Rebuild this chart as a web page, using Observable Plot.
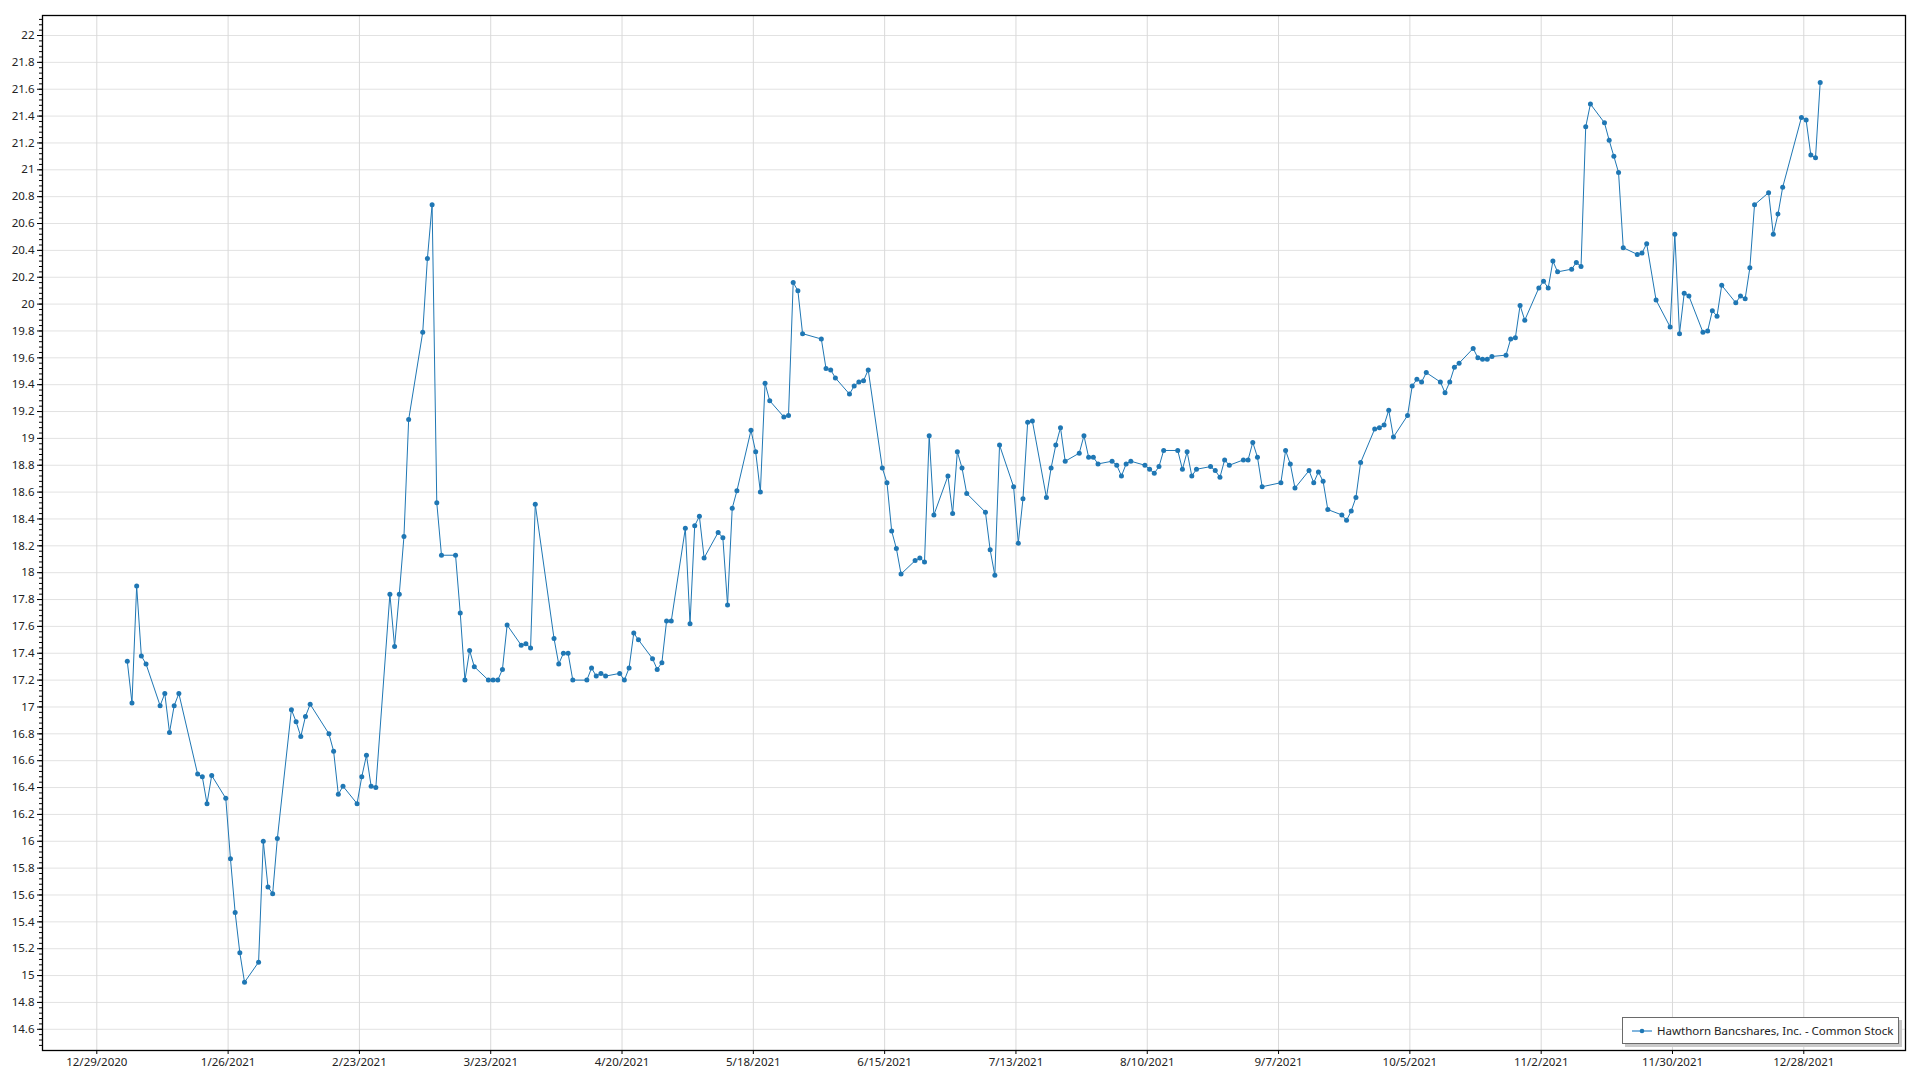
<!DOCTYPE html>
<html><head><meta charset="utf-8">
<script src="https://cdn.jsdelivr.net/npm/d3@7"></script>
<script src="https://cdn.jsdelivr.net/npm/@observablehq/plot@0.6"></script>
<style>
html,body{margin:0;padding:0;background:#fff;}
#wrap{position:relative;width:1920px;height:1080px;overflow:hidden;}
#legend{position:absolute;left:1622px;top:1017px;width:277px;height:27px;border:1.5px solid #6a6a6a;background:#fff;box-shadow:3px 3px 0 #c9c9c9;font-family:"Noto Sans",sans-serif;font-size:11.5px;color:#222;display:flex;align-items:center;box-sizing:border-box;padding-left:9px;}
#legend svg{margin-right:5px;}
</style></head><body>
<div id="wrap"><div id="legend"></div></div>
<script>
const seriesName = "Hawthorn Bancshares, Inc. - Common Stock";

const dates = [
"2021-01-04","2021-01-05","2021-01-06","2021-01-07","2021-01-08","2021-01-11","2021-01-12","2021-01-13","2021-01-14","2021-01-15",
"2021-01-19","2021-01-20","2021-01-21","2021-01-22","2021-01-25","2021-01-26","2021-01-27","2021-01-28","2021-01-29",
"2021-02-01","2021-02-02","2021-02-03","2021-02-04","2021-02-05","2021-02-08","2021-02-09","2021-02-10","2021-02-11","2021-02-12",
"2021-02-16","2021-02-17","2021-02-18","2021-02-19","2021-02-22","2021-02-23","2021-02-24","2021-02-25","2021-02-26",
"2021-03-01","2021-03-02","2021-03-03","2021-03-04","2021-03-05","2021-03-08","2021-03-09","2021-03-10","2021-03-11","2021-03-12",
"2021-03-15","2021-03-16","2021-03-17","2021-03-18","2021-03-19","2021-03-22","2021-03-23","2021-03-24","2021-03-25","2021-03-26",
"2021-03-29","2021-03-30","2021-03-31",
"2021-04-01","2021-04-05","2021-04-06","2021-04-07","2021-04-08","2021-04-09","2021-04-12","2021-04-13","2021-04-14","2021-04-15",
"2021-04-16","2021-04-19","2021-04-20","2021-04-21","2021-04-22","2021-04-23","2021-04-26","2021-04-27","2021-04-28","2021-04-29","2021-04-30",
"2021-05-03","2021-05-04","2021-05-05","2021-05-06","2021-05-07","2021-05-10","2021-05-11","2021-05-12","2021-05-13","2021-05-14",
"2021-05-17","2021-05-18","2021-05-19","2021-05-20","2021-05-21","2021-05-24","2021-05-25","2021-05-26","2021-05-27","2021-05-28",
"2021-06-01","2021-06-02","2021-06-03","2021-06-04","2021-06-07","2021-06-08","2021-06-09","2021-06-10","2021-06-11",
"2021-06-14","2021-06-15","2021-06-16","2021-06-17","2021-06-18","2021-06-21","2021-06-22","2021-06-23","2021-06-24","2021-06-25",
"2021-06-28","2021-06-29","2021-06-30",
"2021-07-01","2021-07-02","2021-07-06","2021-07-07","2021-07-08","2021-07-09","2021-07-12","2021-07-13","2021-07-14","2021-07-15","2021-07-16",
"2021-07-19","2021-07-20","2021-07-21","2021-07-22","2021-07-23","2021-07-26","2021-07-27","2021-07-28","2021-07-29","2021-07-30",
"2021-08-02","2021-08-03","2021-08-04","2021-08-05","2021-08-06","2021-08-09","2021-08-10","2021-08-11","2021-08-12","2021-08-13",
"2021-08-16","2021-08-17","2021-08-18","2021-08-19","2021-08-20","2021-08-23","2021-08-24","2021-08-25","2021-08-26","2021-08-27",
"2021-08-30","2021-08-31",
"2021-09-01","2021-09-02","2021-09-03","2021-09-07","2021-09-08","2021-09-09","2021-09-10","2021-09-13","2021-09-14","2021-09-15",
"2021-09-16","2021-09-17","2021-09-20","2021-09-21","2021-09-22","2021-09-23","2021-09-24","2021-09-27","2021-09-28","2021-09-29","2021-09-30",
"2021-10-01","2021-10-04","2021-10-05","2021-10-06","2021-10-07","2021-10-08","2021-10-11","2021-10-12","2021-10-13","2021-10-14","2021-10-15",
"2021-10-18","2021-10-19","2021-10-20","2021-10-21","2021-10-22","2021-10-25","2021-10-26","2021-10-27","2021-10-28","2021-10-29",
"2021-11-01","2021-11-02","2021-11-03","2021-11-04","2021-11-05","2021-11-08","2021-11-09","2021-11-10","2021-11-11","2021-11-12",
"2021-11-15","2021-11-16","2021-11-17","2021-11-18","2021-11-19","2021-11-22","2021-11-23","2021-11-24","2021-11-26","2021-11-29","2021-11-30",
"2021-12-01","2021-12-02","2021-12-03","2021-12-06","2021-12-07","2021-12-08","2021-12-09","2021-12-10","2021-12-13","2021-12-14",
"2021-12-15","2021-12-16","2021-12-17","2021-12-20","2021-12-21","2021-12-22","2021-12-23","2021-12-27","2021-12-28","2021-12-29",
"2021-12-30","2021-12-31"
];

const prices = [
17.34,17.03,17.90,17.38,17.32,17.01,17.10,16.81,17.01,17.10,
16.50,16.48,16.28,16.49,16.32,15.87,15.47,15.17,14.95,
15.10,16.00,15.66,15.61,16.02,16.98,16.89,16.78,16.93,17.02,
16.80,16.67,16.35,16.41,16.28,16.48,16.64,16.41,16.40,
17.84,17.45,17.84,18.27,19.14,19.79,20.34,20.74,18.52,18.13,
18.13,17.70,17.20,17.42,17.30,17.20,17.20,17.20,17.28,17.61,
17.46,17.47,17.44,
18.51,17.51,17.32,17.40,17.40,17.20,17.20,17.29,17.23,17.25,
17.23,17.25,17.20,17.29,17.55,17.50,17.36,17.28,17.33,17.64,17.64,
18.33,17.62,18.35,18.42,18.11,18.30,18.26,17.76,18.48,18.61,
19.06,18.90,18.60,19.41,19.28,19.16,19.17,20.16,20.10,19.78,
19.74,19.52,19.51,19.45,19.33,19.39,19.42,19.43,19.51,
18.78,18.67,18.31,18.18,17.99,18.09,18.11,18.08,19.02,18.43,
18.72,18.44,18.90,
18.78,18.59,18.45,18.17,17.98,18.95,18.64,18.22,18.55,19.12,19.13,
18.56,18.78,18.95,19.08,18.83,18.89,19.02,18.86,18.86,18.81,
18.83,18.80,18.72,18.81,18.83,18.80,18.77,18.74,18.79,18.91,
18.91,18.77,18.90,18.72,18.77,18.79,18.76,18.71,18.84,18.80,
18.84,18.84,
18.97,18.86,18.64,18.67,18.91,18.81,18.63,18.76,18.67,18.75,
18.68,18.47,18.43,18.39,18.46,18.56,18.82,19.07,19.08,19.10,19.21,
19.01,19.17,19.39,19.44,19.42,19.49,19.42,19.34,19.42,19.53,19.56,
19.67,19.60,19.59,19.59,19.61,19.62,19.74,19.75,19.99,19.88,
20.12,20.17,20.12,20.32,20.24,20.26,20.31,20.28,21.32,21.49,
21.35,21.22,21.10,20.98,20.42,20.37,20.38,20.45,20.03,19.83,20.52,
19.78,20.08,20.06,19.79,19.80,19.95,19.91,20.14,20.01,20.06,
20.04,20.27,20.74,20.83,20.52,20.67,20.87,21.39,21.37,21.11,
21.09,21.65
];

const xTickLabels = ["12/29/2020","1/26/2021","2/23/2021","3/23/2021","4/20/2021","5/18/2021","6/15/2021",
  "7/13/2021","8/10/2021","9/7/2021","10/5/2021","11/2/2021","11/30/2021","12/28/2021"];

const yTicks = [14.6,14.8,15,15.2,15.4,15.6,15.8,16,16.2,16.4,16.6,16.8,17,17.2,17.4,17.6,17.8,18,
  18.2,18.4,18.6,18.8,19,19.2,19.4,19.6,19.8,20,20.2,20.4,20.6,20.8,21,21.2,21.4,21.6,21.8,22];

const parseTick = d3.utcParse("%m/%d/%Y");
const fmtTick = d3.utcFormat("%-m/%-d/%Y");
const xTickDates = xTickLabels.map(parseTick);
const minorTicks = d3.range(0, 192).map(i => +(14.48 + i * 0.04).toFixed(2)).filter(v => v <= 22.14);

const data = dates.map((d, i) => ({date: new Date(d + "T12:00:00Z"), price: prices[i]}));

const day = 864e5;
const origin = Date.UTC(2020, 11, 29);
const xDomain = [new Date(origin - 11.58 * day), new Date(origin + 385.69 * day)];

const chart = Plot.plot({
  width: 1920,
  height: 1080,
  marginLeft: 42,
  marginTop: 15,
  marginRight: 15,
  marginBottom: 30,
  style: {fontFamily: '"Noto Sans", sans-serif', fontSize: "11.5px", color: "#222", background: "#fff"},
  x: {type: "utc", domain: xDomain},
  y: {domain: [14.442, 22.149]},
  marks: [
    Plot.gridY(yTicks, {stroke: "#e2e2e2", strokeOpacity: 1}),
    Plot.gridX(xTickDates, {stroke: "#d9d9d9", strokeOpacity: 1}),
    Plot.line(data, {x: "date", y: "price", stroke: "#1f77b4", strokeWidth: 1}),
    Plot.dot(data, {x: "date", y: "price", r: 2.5, fill: "#1f77b4"}),
    Plot.axisY(minorTicks, {tickSize: 3, tickFormat: () => "", label: null, stroke: "#000"}),
    Plot.axisY(yTicks, {tickSize: 5, tickPadding: 3, tickFormat: d => String(d), label: null, stroke: "#000"}),
    Plot.axisX(xTickDates, {tickSize: 4, tickPadding: 3, tickFormat: fmtTick, label: null, stroke: "#000"}),
    Plot.frame({stroke: "#000", strokeWidth: 1.3})
  ]
});

const wrap = document.getElementById("wrap");
wrap.insertBefore(chart, wrap.firstChild);
chart.style.position = "absolute";
chart.style.left = "0";
chart.style.top = "0";

const legend = document.getElementById("legend");
legend.innerHTML = '<svg width="20" height="10"><line x1="0" x2="20" y1="5" y2="5" stroke="#80b5de" stroke-width="2"/><circle cx="10" cy="5" r="2.3" fill="#1f77b4"/></svg><span></span>';
legend.querySelector("span").textContent = seriesName;
</script>
</body></html>
